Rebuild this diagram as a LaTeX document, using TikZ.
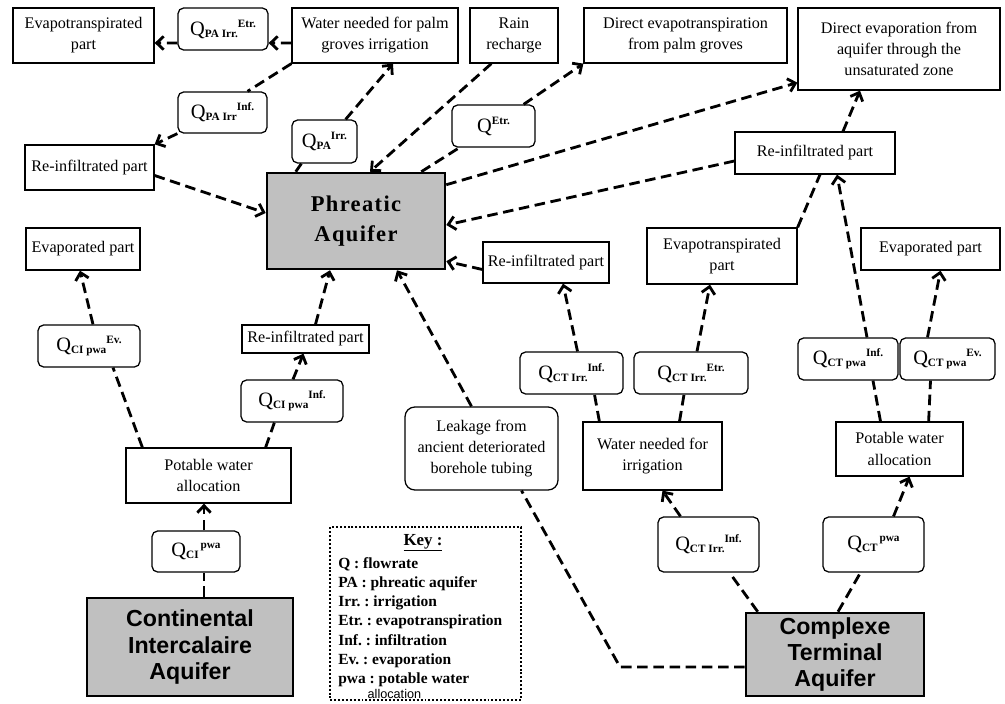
\documentclass[tikz,border=0pt]{standalone}
\usepackage{fontspec}
\setmainfont{Liberation Serif}
\setsansfont{Liberation Sans}
\newfontfamily\spacedserif[LetterSpace=6]{Liberation Serif}
\definecolor{aquigray}{HTML}{C0C0C0}
\usetikzlibrary{arrows.meta, positioning, calc}
\frenchspacing
\newcommand{\flowq}[2]
{%
	{\fontsize{14.5}{16}\selectfont Q}\raisebox{-1.5pt}{\fontsize{8}{9}\selectfont\bfseries #1}\raisebox{5.7pt}{\fontsize{8}{9}\selectfont\bfseries #2}%
}
\newcommand{\arrowlink}[2]
{
	\draw[flowline, -{Straight Barb[length=5pt, width=9.5pt]}] (#1) -- (#2)
}
\newcommand{\plainlink}[2]
{
	\draw[flowline] (#1) -- (#2)
}

\begin{document}
\begin{tikzpicture}[x=0.025cm, y=-0.025cm,
	every node/.append style={font=\fontsize{11.5}{15}\selectfont, align=center, inner sep=0pt},
	box/.style={shape=rectangle, draw=black, line width=0.9pt},
	qbox/.style={shape=rectangle, draw=black, line width=0.9pt, rounded corners=4pt},
	aquifer/.style={shape=rectangle, draw=black, fill=aquigray, line width=1.8pt},
	wh/.style 2 args={minimum width=#1*0.025cm, minimum height=#2*0.025cm},
	sans/.style={font=\sffamily\bfseries\fontsize{16.5}{18.5}\selectfont},
	flowline/.style={line width=2pt, dash pattern=on 7.5pt off 4pt},
	keybox/.style={shape=rectangle, draw=black, line width=1.4pt, dash pattern=on 1.4pt off 1.4pt},
	keytext/.style={align=left, font=\bfseries\fontsize{11}{13.7}\selectfont}]

	\useasboundingbox (0, 0) rectangle (1005, 703);

	\node[box, wh={141}{55}] at (83.5, 35.5) (evapA){Evapotranspirated\\part};
	\node[qbox, wh={90}{42}] at (223, 29) (qPAetr){\flowq{PA Irr.}{Etr.}};
	\node[box, wh={166}{55}] at (375, 35.5) (palm){Water needed for palm\\groves irrigation};
	\node[box, wh={88}{55}] at (514, 35.5) (rain){Rain\\recharge};
	\node[box, wh={203}{55}] at (685.5, 35.5) (dEt){Direct evapotranspiration\\from palm groves};
	\node[box, wh={202}{82}] at (899, 49) (dEv){Direct evaporation from\\aquifer through the\\unsaturated zone};
	\node[qbox, wh={89}{41}] at (222.5, 112.5) (qPAinf){\flowq{PA Irr}{Inf.}};
	\node[qbox, wh={65}{43}] at (324.5, 141.5) (qPAirr){\flowq{PA}{Irr.}};
	\node[qbox, wh={83}{42}] at (493.5, 126) (qEtr){\flowq{}{Etr.}};
	\node[box, wh={129}{45}] at (89.5, 167.5) (reA){Re-infiltrated part};
	\node[box, wh={160}{42}] at (815, 153) (reB){Re-infiltrated part};
	\node[aquifer, wh={178}{96}, font=\spacedserif\bfseries\fontsize{16}{21}\selectfont] at (356, 221) (PA){Phreatic\\Aquifer};
	\node[box, wh={114}{42}] at (83, 249) (evB){Evaporated part};
	\node[box, wh={126}{41}] at (546, 262.5) (reC){Re-infiltrated part};
	\node[box, wh={150}{56}] at (722, 256) (evapC){Evapotranspirated\\part};
	\node[box, wh={139}{42}] at (930.5, 249) (evD){Evaporated part};
	\node[box, wh={127}{28}] at (305.5, 339) (reD){Re-infiltrated part};
	\node[qbox, wh={102}{42}] at (89, 346) (qCIev){\flowq{CI pwa}{Ev.}};
	\node[qbox, wh={102}{42}] at (292, 401) (qCIinf){\flowq{CI pwa}{Inf.}};
	\node[qbox, wh={103}{42}] at (571.5, 373) (qCTinfA){\flowq{CT Irr.}{Inf.}};
	\node[qbox, wh={114}{42}] at (691, 373) (qCTetr){\flowq{CT Irr.}{Etr.}};
	\node[qbox, wh={100}{42}] at (848, 359) (qCTpinf){\flowq{CT pwa}{Inf.}};
	\node[qbox, wh={95}{42}] at (947.5, 359) (qCTpev){\flowq{CT pwa}{Ev.}};
	\node[qbox, rounded corners=7pt, wh={153}{83}] at (481.5, 448.5) (leak){Leakage from\\ancient deteriorated\\borehole tubing};
	\node[box, wh={139}{68}] at (652.5, 456) (irr){Water needed for\\irrigation};
	\node[box, wh={127}{54}] at (899.5, 449) (potR){Potable water\\allocation};
	\node[box, wh={165}{55}] at (208.5, 475.5) (potL){Potable water\\allocation};
	\node[qbox, wh={88}{41}] at (196, 551.5) (qCIp){\flowq{CI}{\,pwa}};
	\node[aquifer, wh={206}{98}, sans] at (190, 647) (CI){Continental\\Intercalaire\\Aquifer};
	\node[qbox, wh={101}{55}] at (708.5, 544.5) (qCTinfB){\flowq{CT Irr.}{Inf.}};
	\node[qbox, wh={101}{55}] at (873.5, 544.5) (qCTp){\flowq{CT}{\,pwa}};
	\node[aquifer, wh={178}{83}, sans] at (835, 654.5) (CT){Complexe\\Terminal\\Aquifer};

	\node[keybox, wh={191}{173}] at (425.5, 613.5) (key){};
	\node[font=\bfseries\fontsize{12}{14}\selectfont, anchor=base] at (423, 545) (keyhead){\underline{Key :}};
	\node[keytext, anchor=north west] at (338, 557) (keylist){Q : flowrate\\PA : phreatic aquifer\\Irr. : irrigation\\Etr. : evapotranspiration\\Inf. : infiltration\\Ev. : evaporation\\pwa : potable water\\[-3pt]\hspace*{1.9em}{\sffamily\mdseries\fontsize{9}{9}\selectfont allocation}};

	\coordinate (bend) at (620, 667);

	\arrowlink{$(palm.west)+(0,7.5)$}{$(qPAetr.east)+(0,14)$};
	\arrowlink{$(qPAetr.west)+(0,14)$}{$(evapA.east)+(0,7.5)$};
	\plainlink{palm.south west}{$(qPAinf.north)+(25,0)$};
	\arrowlink{qPAinf.south west}{reA.north east};
	\plainlink{$(PA.north west)+(30,0)$}{$(qPAirr.south west)+(10,0)$};
	\arrowlink{$(qPAirr.north east)+(-12,0)$}{$(palm.south)+(18,0)$};
	\arrowlink{$(rain.south west)+(22,0)$}{$(PA.north)+(14,0)$};
	\plainlink{$(PA.north east)+(-25,0)$}{$(qEtr.south west)+(8,0)$};
	\arrowlink{$(qEtr.north east)+(-12,0)$}{dEt.south west};
	\arrowlink{$(PA.north east)+(0,13)$}{$(dEv.south west)+(0,-8)$};
	\arrowlink{$(reB.west)+(0,8)$}{$(PA.east)+(0,4)$};
	\arrowlink{$(reB.north)+(28,0)$}{$(dEv.south)+(-39,0)$};
	\arrowlink{$(reA.east)+(0,8)$}{$(PA.west)+(0,-8)$};
	\arrowlink{$(reC.west)+(0,7)$}{$(PA.south east)+(0,-9)$};
	\arrowlink{$(qCIev.north)+(4,0)$}{$(evB.south)+(-3,0)$};
	\plainlink{$(potL.north west)+(17,0)$}{$(qCIev.south)+(24,0)$};
	\plainlink{$(potL.north east)+(-26,0)$}{$(qCIinf.south west)+(34,0)$};
	\arrowlink{$(qCIinf.north)+(1,0)$}{$(reD.south)+(-2,0)$};
	\arrowlink{$(reD.north)+(10,0)$}{$(PA.south)+(-26,0)$};
	\plainlink{$(CI.north)+(14,0)$}{$(qCIp.south)+(8,0)$};
	\arrowlink{$(qCIp.north)+(8,0)$}{$(potL.south)+(-4.5,0)$};
	\draw[flowline] ($(CT.west)+(0,12.5)$) -- (bend) -- ($(leak.south)+(40,0)$);
	\arrowlink{$(leak.north)+(-10,0)$}{$(PA.south)+(41,0)$};
	\plainlink{$(CT.north west)+(13,0)$}{$(qCTinfB.south)+(21,0)$};
	\arrowlink{$(qCTinfB.north)+(-28,0)$}{$(irr.south)+(10,0)$};
	\plainlink{$(CT.north)+(3,0)$}{$(qCTp.south)+(-13,0)$};
	\arrowlink{$(qCTp.north)+(20,0)$}{$(potR.south)+(10,0)$};
	\plainlink{$(irr.north west)+(17,0)$}{$(qCTinfA.south)+(23,0)$};
	\arrowlink{$(qCTinfA.north)+(6,0)$}{$(reC.south)+(17,0)$};
	\plainlink{$(irr.north)+(27,0)$}{$(qCTetr.south)+(-7,0)$};
	\arrowlink{$(qCTetr.north)+(6,0)$}{$(evapC.south)+(-12,0)$};
	\plainlink{evapC.north east}{$(reB.south)+(5,0)$};
	\plainlink{$(potR.north)+(-19,0)$}{$(qCTpinf.south)+(25,0)$};
	\arrowlink{$(qCTpinf.north)+(19,0)$}{$(reB.south)+(22,0)$};
	\plainlink{$(potR.north east)+(-35,0)$}{$(qCTpev.south)+(-17,0)$};
	\arrowlink{$(qCTpev.north)+(-20,0)$}{$(evD.south)+(10,0)$};
\end{tikzpicture}
\end{document}
